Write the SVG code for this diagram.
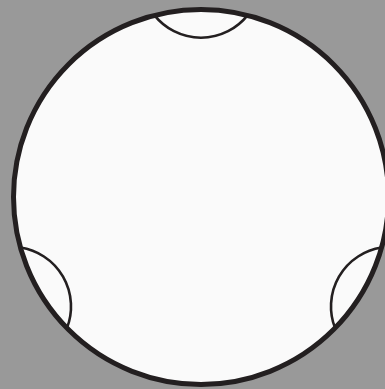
<svg xmlns="http://www.w3.org/2000/svg" width="385" height="389" viewBox="0 0 385 389">
<style>
.bg{fill:#999999}
.disc{fill:#fafafa;stroke:#231f20;stroke-width:5}
.cap{fill:none;stroke:#231f20;stroke-width:2.6}
</style>
<defs>
<path id="capArc" d="M154.5,15.36 A59.6,59.6 0 0 0 247.5,15.36"/>
</defs>
<rect class="bg" x="0" y="0" width="385" height="389"/>
<g id="disc">
<circle class="disc" cx="201" cy="197" r="187.5"/>
</g>
<g id="caps">
<use href="#capArc" class="cap"/>
<use href="#capArc" class="cap" transform="rotate(-120 201 197)"/>
<use href="#capArc" class="cap" transform="rotate(120 201 197)"/>
</g>
</svg>
